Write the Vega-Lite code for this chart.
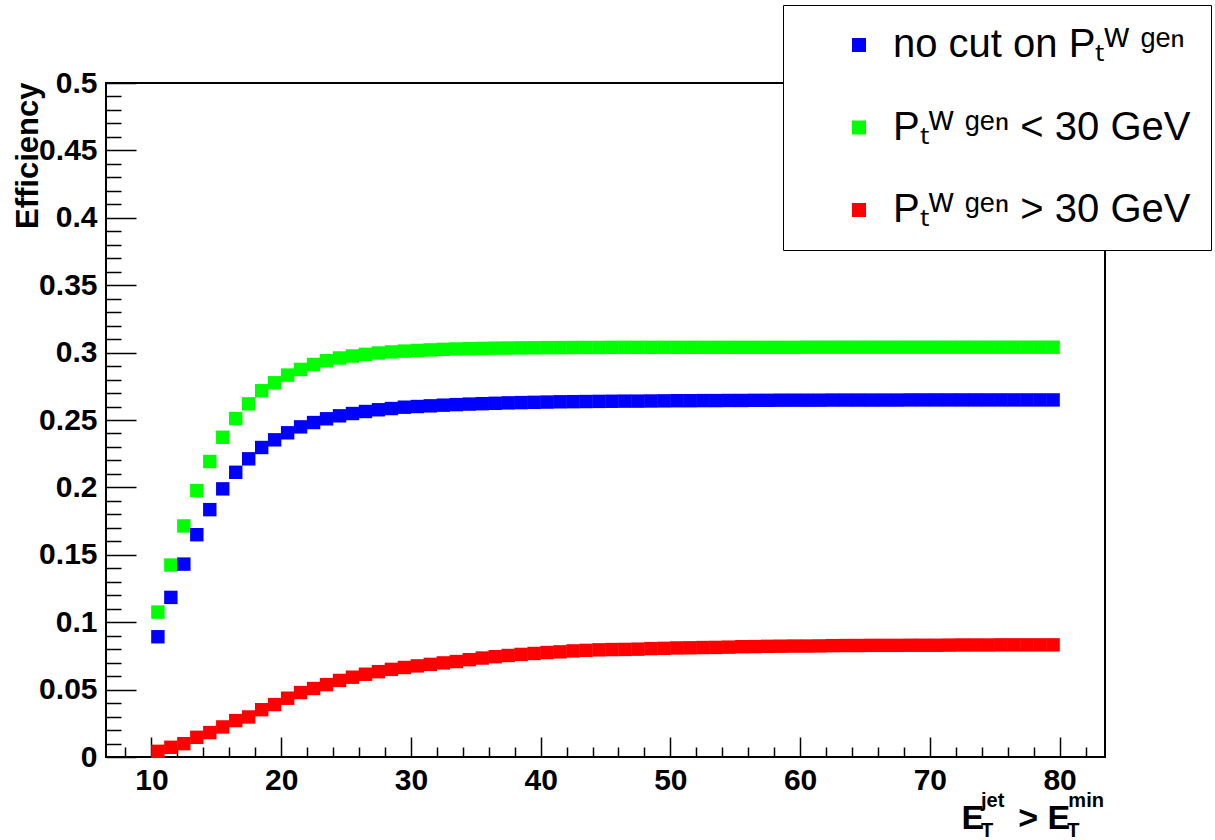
{
  "$schema": "https://vega.github.io/schema/vega-lite/v6.json",
  "width": 999,
  "height": 674,
  "autosize": {"type": "none"},
  "padding": {"left": 106, "top": 83, "right": 110, "bottom": 83},
  "background": "white",
  "config": {
    "view": {"stroke": "black", "strokeWidth": 2},
    "font": "Liberation Sans"
  },
  "title": {
    "text": "jet\u2003\u2003\u2003\u2009min",
    "subtitle": "T\u2003\u2003\u2003\u2002\u2009T",
    "orient": "bottom",
    "anchor": "start",
    "frame": "group",
    "dx": 875,
    "dy": -48,
    "font": "Liberation Sans",
    "fontSize": 20,
    "fontWeight": "bold",
    "color": "black",
    "subtitleFont": "Liberation Sans",
    "subtitleFontSize": 20,
    "subtitleFontWeight": "bold",
    "subtitleColor": "black",
    "subtitlePadding": 10
  },
  "data": {
    "values": [
      {"e":10.5,"n":0.0892,"l":0.1075,"h":0.0042},
      {"e":11.5,"n":0.1184,"l":0.1424,"h":0.0072},
      {"e":12.5,"n":0.1431,"l":0.1714,"h":0.0099},
      {"e":13.5,"n":0.1649,"l":0.1976,"h":0.0146},
      {"e":14.5,"n":0.1835,"l":0.2192,"h":0.0181},
      {"e":15.5,"n":0.1989,"l":0.2372,"h":0.0223},
      {"e":16.5,"n":0.2112,"l":0.2511,"h":0.0270},
      {"e":17.5,"n":0.2212,"l":0.2620,"h":0.0297},
      {"e":18.5,"n":0.2296,"l":0.2717,"h":0.0351},
      {"e":19.5,"n":0.2353,"l":0.2776,"h":0.0389},
      {"e":20.5,"n":0.2405,"l":0.2833,"h":0.0436},
      {"e":21.5,"n":0.2449,"l":0.2875,"h":0.0478},
      {"e":22.5,"n":0.2481,"l":0.2912,"h":0.0508},
      {"e":23.5,"n":0.2509,"l":0.2940,"h":0.0537},
      {"e":24.5,"n":0.2531,"l":0.2960,"h":0.0568},
      {"e":25.5,"n":0.2548,"l":0.2975,"h":0.0592},
      {"e":26.5,"n":0.2563,"l":0.2987,"h":0.0614},
      {"e":27.5,"n":0.2576,"l":0.2997,"h":0.0633},
      {"e":28.5,"n":0.2585,"l":0.3005,"h":0.0650},
      {"e":29.5,"n":0.2595,"l":0.3011,"h":0.0664},
      {"e":30.5,"n":0.2600,"l":0.3016,"h":0.0676},
      {"e":31.5,"n":0.2605,"l":0.3020,"h":0.0687},
      {"e":32.5,"n":0.2610,"l":0.3024,"h":0.0698},
      {"e":33.5,"n":0.2614,"l":0.3027,"h":0.0708},
      {"e":34.5,"n":0.2618,"l":0.3029,"h":0.0722},
      {"e":35.5,"n":0.2621,"l":0.3031,"h":0.0734},
      {"e":36.5,"n":0.2624,"l":0.3033,"h":0.0744},
      {"e":37.5,"n":0.2627,"l":0.3034,"h":0.0753},
      {"e":38.5,"n":0.2629,"l":0.3035,"h":0.0761},
      {"e":39.5,"n":0.2631,"l":0.3036,"h":0.0768},
      {"e":40.5,"n":0.2633,"l":0.3037,"h":0.0775},
      {"e":41.5,"n":0.2635,"l":0.3037,"h":0.0780},
      {"e":42.5,"n":0.2636,"l":0.3038,"h":0.0787},
      {"e":43.5,"n":0.2637,"l":0.3038,"h":0.0791},
      {"e":44.5,"n":0.2638,"l":0.3038,"h":0.0795},
      {"e":45.5,"n":0.2639,"l":0.3039,"h":0.0797},
      {"e":46.5,"n":0.2640,"l":0.3039,"h":0.0798},
      {"e":47.5,"n":0.2640,"l":0.3039,"h":0.0800},
      {"e":48.5,"n":0.2641,"l":0.3039,"h":0.0804},
      {"e":49.5,"n":0.2642,"l":0.3039,"h":0.0806},
      {"e":50.5,"n":0.2643,"l":0.3039,"h":0.0809},
      {"e":51.5,"n":0.2643,"l":0.3039,"h":0.0810},
      {"e":52.5,"n":0.2644,"l":0.3039,"h":0.0812},
      {"e":53.5,"n":0.2644,"l":0.3039,"h":0.0813},
      {"e":54.5,"n":0.2645,"l":0.3039,"h":0.0815},
      {"e":55.5,"n":0.2645,"l":0.3039,"h":0.0818},
      {"e":56.5,"n":0.2646,"l":0.3039,"h":0.0819},
      {"e":57.5,"n":0.2646,"l":0.3039,"h":0.0821},
      {"e":58.5,"n":0.2647,"l":0.3039,"h":0.0822},
      {"e":59.5,"n":0.2647,"l":0.3039,"h":0.0823},
      {"e":60.5,"n":0.2647,"l":0.3040,"h":0.0823},
      {"e":61.5,"n":0.2647,"l":0.3040,"h":0.0824},
      {"e":62.5,"n":0.2648,"l":0.3040,"h":0.0826},
      {"e":63.5,"n":0.2648,"l":0.3040,"h":0.0827},
      {"e":64.5,"n":0.2648,"l":0.3040,"h":0.0827},
      {"e":65.5,"n":0.2648,"l":0.3040,"h":0.0828},
      {"e":66.5,"n":0.2648,"l":0.3040,"h":0.0828},
      {"e":67.5,"n":0.2648,"l":0.3040,"h":0.0828},
      {"e":68.5,"n":0.2649,"l":0.3040,"h":0.0829},
      {"e":69.5,"n":0.2649,"l":0.3040,"h":0.0829},
      {"e":70.5,"n":0.2649,"l":0.3040,"h":0.0829},
      {"e":71.5,"n":0.2649,"l":0.3040,"h":0.0830},
      {"e":72.5,"n":0.2649,"l":0.3040,"h":0.0831},
      {"e":73.5,"n":0.2649,"l":0.3040,"h":0.0831},
      {"e":74.5,"n":0.2649,"l":0.3040,"h":0.0831},
      {"e":75.5,"n":0.2649,"l":0.3040,"h":0.0832},
      {"e":76.5,"n":0.2649,"l":0.3040,"h":0.0832},
      {"e":77.5,"n":0.2649,"l":0.3040,"h":0.0832},
      {"e":78.5,"n":0.2649,"l":0.3040,"h":0.0832},
      {"e":79.5,"n":0.2649,"l":0.3040,"h":0.0832}
    ]
  },
  "transform": [{"fold": ["n", "l", "h"], "as": ["s", "eff"]}],
  "layer": [
    {
      "mark": {"type": "point", "shape": "square", "filled": true, "size": 180, "opacity": 1},
      "encoding": {
        "x": {
          "field": "e", "type": "quantitative",
          "scale": {"domain": [6.5, 83.5], "nice": false, "zero": false},
          "axis": {
            "orient": "bottom",
            "values": [10, 20, 30, 40, 50, 60, 70, 80],
            "format": "d",
            "domain": false, "grid": false,
            "tickSize": -20, "tickWidth": 1.5, "tickColor": "black",
            "labelFont": "Liberation Sans", "labelFontSize": 30, "labelFontWeight": "bold", "labelColor": "black",
            "labelPadding": 28, "labelFlush": false,
            "title": "E\u2003> E",
            "titleFont": "Liberation Sans", "titleFontSize": 34, "titleFontWeight": "bold", "titleColor": "black",
            "titleAlign": "left", "titleBaseline": "alphabetic", "titleX": 855, "titleY": 71
          }
        },
        "y": {
          "field": "eff", "type": "quantitative",
          "scale": {"domain": [0, 0.5], "nice": false, "zero": false},
          "axis": {
            "orient": "left",
            "values": [0, 0.05, 0.1, 0.15, 0.2, 0.25, 0.3, 0.35, 0.4, 0.45, 0.5],
            "format": ".2~f",
            "domain": false, "grid": false,
            "tickSize": -30, "tickWidth": 1.5, "tickColor": "black",
            "labelFont": "Liberation Sans", "labelFontSize": 30, "labelFontWeight": "bold", "labelColor": "black",
            "labelPadding": 39, "labelFlush": false,
            "title": "Efficiency",
            "titleFont": "Liberation Sans", "titleFontSize": 31, "titleFontWeight": "bold", "titleColor": "black",
            "titleAngle": -90, "titleAlign": "right", "titleBaseline": "middle", "titleX": -78, "titleY": -1
          }
        },
        "color": {
          "field": "s", "type": "nominal",
          "scale": {"domain": ["n", "l", "h"], "range": ["#0000ff", "#00ff00", "#ff0000"]},
          "legend": {
            "orient": "none", "legendX": 677, "legendY": -78,
            "title": null,
            "labelExpr": "datum.value == 'n' ? 'no cut on P\u209c\u1d42 \u1d4d\u1d49\u207f' : datum.value == 'l' ? 'P\u209c\u1d42 \u1d4d\u1d49\u207f < 30 GeV' : 'P\u209c\u1d42 \u1d4d\u1d49\u207f > 30 GeV'",
            "labelFont": "Liberation Sans", "labelFontSize": 40, "labelColor": "black", "labelLimit": 500,
            "symbolType": "square", "symbolSize": 196, "symbolStrokeWidth": 0, "symbolOpacity": 1,
            "symbolOffset": 36, "labelOffset": 14,
            "rowPadding": 42.5, "padding": 20,
            "strokeColor": "black", "fillColor": "white", "cornerRadius": 0,
            "zindex": 1
          }
        }
      }
    },
    {
      "mark": {"type": "point", "opacity": 0},
      "encoding": {
        "x": {
          "field": "e", "type": "quantitative",
          "axis": {
            "orient": "bottom",
            "values": [8, 12, 14, 16, 18, 22, 24, 26, 28, 32, 34, 36, 38, 42, 44, 46, 48, 52, 54, 56, 58, 62, 64, 66, 68, 72, 74, 76, 78, 82],
            "labels": false, "domain": false, "grid": false, "title": null,
            "tickSize": -10, "tickWidth": 1.5, "tickColor": "black"
          }
        },
        "y": {
          "field": "eff", "type": "quantitative",
          "axis": {
            "orient": "left",
            "values": [0.01, 0.02, 0.03, 0.04, 0.06, 0.07, 0.08, 0.09, 0.11, 0.12, 0.13, 0.14, 0.16, 0.17, 0.18, 0.19, 0.21, 0.22, 0.23, 0.24, 0.26, 0.27, 0.28, 0.29, 0.31, 0.32, 0.33, 0.34, 0.36, 0.37, 0.38, 0.39, 0.41, 0.42, 0.43, 0.44, 0.46, 0.47, 0.48, 0.49],
            "labels": false, "domain": false, "grid": false, "title": null,
            "tickSize": -15, "tickWidth": 1.5, "tickColor": "black"
          }
        }
      }
    }
  ],
  "resolve": {"axis": {"x": "independent", "y": "independent"}}
}
